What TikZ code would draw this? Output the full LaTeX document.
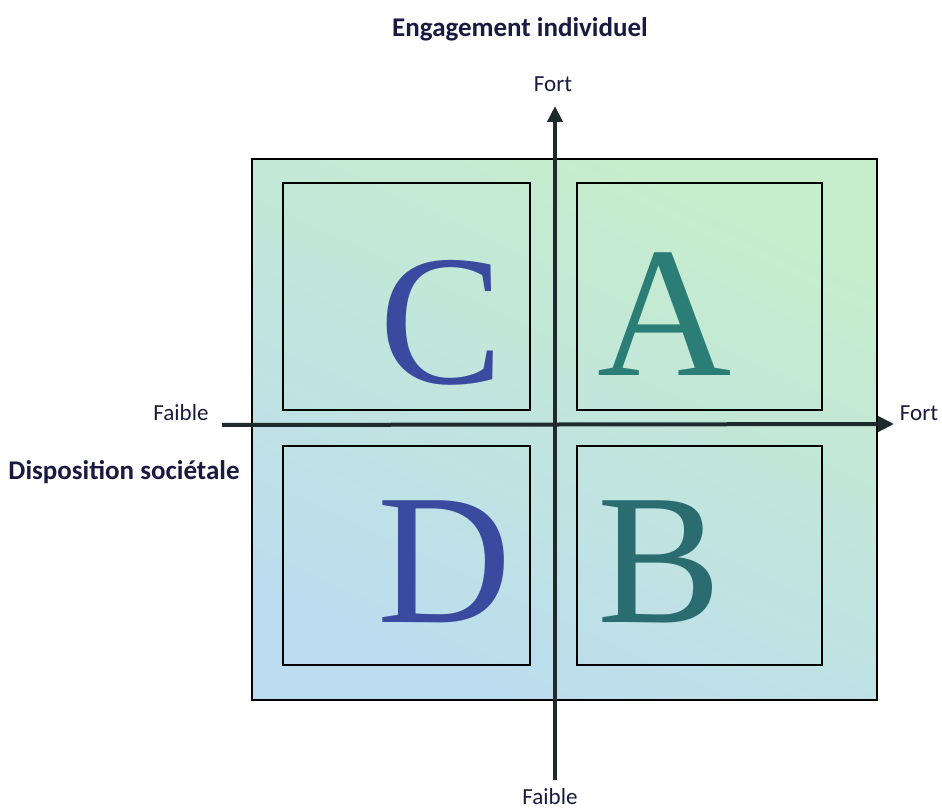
\documentclass[tikz,border=0pt]{standalone}
\usepackage{fontspec}
\setmainfont{Liberation Serif}
\newfontfamily\lab{Carlito}
\usetikzlibrary{arrows.meta}
\definecolor{bggreen}{HTML}{C6EECB}
\definecolor{bgblue}{HTML}{BCDCF0}
\definecolor{axiscol}{HTML}{1E2A2C}
\definecolor{labcol}{HTML}{1A1A40}
\definecolor{letblue}{HTML}{3A4A9E}
\definecolor{letteal}{HTML}{2A7E76}
\definecolor{letteal2}{HTML}{2A6C70}
\tikzset{
  quadbox/.style={draw=black, line width=1.6pt, inner sep=0pt},
  axisline/.style={draw=axiscol, line width=4pt, -{Triangle[length=16pt,width=15pt]}},
  axislab/.style={font=\lab\fontsize{23}{27}\selectfont, text=labcol, inner sep=0pt},
  titlelab/.style={font=\lab\bfseries\fontsize{27}{32}\selectfont, text=labcol, inner sep=0pt},
  bigletter/.style={font=\fontsize{186}{190}\selectfont, inner sep=0pt, anchor=base}
}
\begin{document}
\begin{tikzpicture}[x=1pt,y=-1pt]
\useasboundingbox (0,0) rectangle (942,810);
\fill[white] (0,0) rectangle (942,810);
\node (outer) [draw=black, line width=2pt, inner sep=0pt, minimum width=625pt, minimum height=541pt,
  shade, shading=axis, top color=bggreen, bottom color=bgblue, shading angle=-25] at (564.5,429.5) {};
\node (boxC) [quadbox, minimum width=247pt, minimum height=227pt] at (406.5,296.5) {};
\node (boxA) [quadbox, minimum width=245pt, minimum height=227pt] at (699.5,296.5) {};
\node (boxD) [quadbox, minimum width=247pt, minimum height=219pt] at (406.5,555.5) {};
\node (boxB) [quadbox, minimum width=245pt, minimum height=219pt] at (699.5,555.5) {};
\node (C) [bigletter, text=letblue] at (442,383) {C};
\node (A) [bigletter, text=letteal] at (665,375) {A};
\node (D) [bigletter, text=letblue] at (445,622) {D};
\node (B) [bigletter, text=letteal2] at (660,622) {B};
\coordinate (vbot) at (555,780);
\coordinate (vtop) at (555,106);
\coordinate (hleft) at (222,425);
\coordinate (hright) at (894,424);
\draw[axisline] (vbot) -- (vtop);
\draw[axisline] (hleft) -- (hright);
\node (title) [titlelab] at (520,29) {Engagement individuel};
\node (ftop) [axislab] at (553,84) {Fort};
\node (fbot) [axislab] at (550,797) {Faible};
\node (fright) [axislab] at (919,413) {Fort};
\node (fleft) [axislab] at (181,413) {Faible};
\node (disp) [titlelab] at (124,472) {Disposition sociétale};
\end{tikzpicture}
\end{document}
